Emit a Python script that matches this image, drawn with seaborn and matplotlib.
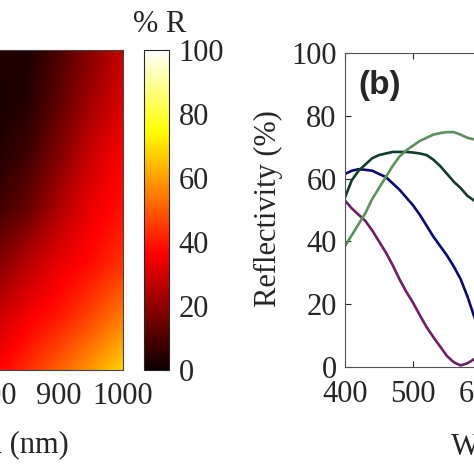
import numpy as np
import pandas as pd
import matplotlib
matplotlib.use("Agg")
import matplotlib.pyplot as plt
import seaborn as sns

# ---------------- data ----------------
# (a) reflectivity map (% R); columns = wavelength (nm), rows = top -> bottom
map_wavelengths = [800, 850, 900, 950, 1000]
map_rows = [0, 1, 2, 3, 4, 5, 6]
map_values = [
    [4, 3, 10, 19, 28],
    [2, 4, 13, 23, 31],
    [3, 8, 18, 29, 36],
    [8, 14, 25, 34, 39],
    [17, 26, 33, 38, 44],
    [28, 35, 40, 47, 55],
    [36, 43, 51, 59, 68],
]

# (b) reflectivity spectra
wavelength = [400, 410, 420, 430, 440, 450, 460, 470, 480, 490, 500,
              510, 520, 530, 540, 550, 560, 570, 580, 590, 600]
refl_magenta = [53, 50.5, 48.5, 46.5, 43.5, 40, 36.5, 32.5, 28, 24, 20.5,
                16.5, 12.7, 9.5, 6.5, 3.5, 1.5, 0.5, 1.2, 2.5, 4]
refl_navy = [61.5, 62.5, 63, 62.8, 62.5, 61.5, 60.5, 58.5, 56.5, 54, 51.5,
             48.5, 45, 41.5, 38.5, 35.5, 32, 28, 22.5, 16, 11]
refl_darkgreen = [54, 59.5, 62.5, 64.5, 66.5, 67.5, 68, 68.5, 68.5, 68.5, 68.3,
                  68, 67.5, 66, 64, 61.5, 59, 57, 54.5, 53, 52]
refl_lightgreen = [38.5, 42, 45.5, 49, 53.5, 57, 60.5, 64, 67, 69, 70.5,
                   72, 73, 74, 74.5, 74.8, 74.8, 74, 73, 72.5, 72]
series_names = ["s1", "s2", "s3", "s4"]
series_colors = ["#6e1f62", "#0b0b6b", "#123d2c", "#5f8f5f"]

# ---------------- style ----------------
sns.set_style("white")
plt.rcParams["font.family"] = ["Liberation Serif", "DejaVu Serif"]
FS = 22

W = H = 474
fig = plt.figure(figsize=(4.74, 4.74), dpi=100)

def frac(x0, y_top, w, h):
    return [x0 / W, (H - y_top - h) / H, w / W, h / H]

# ---------------- (a) heatmap ----------------
ax1 = fig.add_axes(frac(-197, 50, 320, 320))
arr = np.array(map_values, dtype=float)
dx = (map_wavelengths[1] - map_wavelengths[0]) / 2
im = ax1.imshow(arr, cmap="hot", vmin=0, vmax=100, aspect="auto",
                interpolation="bilinear", origin="upper",
                extent=[map_wavelengths[0] - dx, map_wavelengths[-1] + dx,
                        map_rows[-1] + 0.5, map_rows[0] - 0.5])
ax1.set_xlim(500, 1000)
ax1.set_ylim(map_rows[-1], map_rows[0])
ax1.set_xticks([500, 600, 700, 800, 900, 1000])
ax1.set_yticks([])
ax1.tick_params(axis="x", direction="in", length=4, labelsize=FS, pad=9)
for sp in ax1.spines.values():
    sp.set_color("#444444")
    sp.set_linewidth(0.8)
ax1.set_xlabel("Wavelength (nm)", fontsize=FS)
ax1.xaxis.set_label_coords(0.50, -0.19)

# colorbar
cax = fig.add_axes(frac(144, 50, 25, 320))
cb = fig.colorbar(im, cax=cax)
cb.set_ticks([0, 20, 40, 60, 80, 100])
cb.ax.tick_params(direction="in", length=4, labelsize=FS, pad=7)
cb.outline.set_linewidth(0.8)
fig.text(160 / W, 1 - 24 / H, "% R", fontsize=FS, ha="center", va="center")

# ---------------- (b) spectra ----------------
ax2 = fig.add_axes(frac(345, 53, 408, 314))
rows = []
for name, vals in zip(series_names,
                      [refl_magenta, refl_navy, refl_darkgreen, refl_lightgreen]):
    for wl, v in zip(wavelength, vals):
        rows.append({"wavelength": wl, "R": v, "series": name})
df = pd.DataFrame(rows)
sns.lineplot(data=df, x="wavelength", y="R", hue="series",
             palette=dict(zip(series_names, series_colors)),
             linewidth=1.9, legend=False, ax=ax2)
ax2.set_xlim(400, 1000)
ax2.set_ylim(0, 100)
ax2.set_xticks([400, 500, 600, 700, 800, 900, 1000])
ax2.set_yticks([0, 20, 40, 60, 80, 100])
ax2.tick_params(direction="in", length=4, labelsize=FS, top=True, right=True,
                bottom=True, left=True)
ax2.tick_params(axis="x", pad=9)
ax2.tick_params(axis="y", pad=6)
for sp in ax2.spines.values():
    sp.set_visible(True)
    sp.set_color("#555555")
    sp.set_linewidth(0.8)
ax2.set_xlabel("Wavelength (nm)", fontsize=FS)
ax2.xaxis.set_label_coords(0.52, -0.21)
ax2.set_ylabel("Reflectivity (%)", fontsize=FS)
ax2.yaxis.set_label_coords(-0.152, 0.506)
ax2.text(0.086, 0.898, "(b)", transform=ax2.transAxes, ha="center",
         va="center", fontsize=24, fontweight="bold",
         family=["Liberation Sans", "DejaVu Sans"])

fig.savefig("out.png", dpi=100)
